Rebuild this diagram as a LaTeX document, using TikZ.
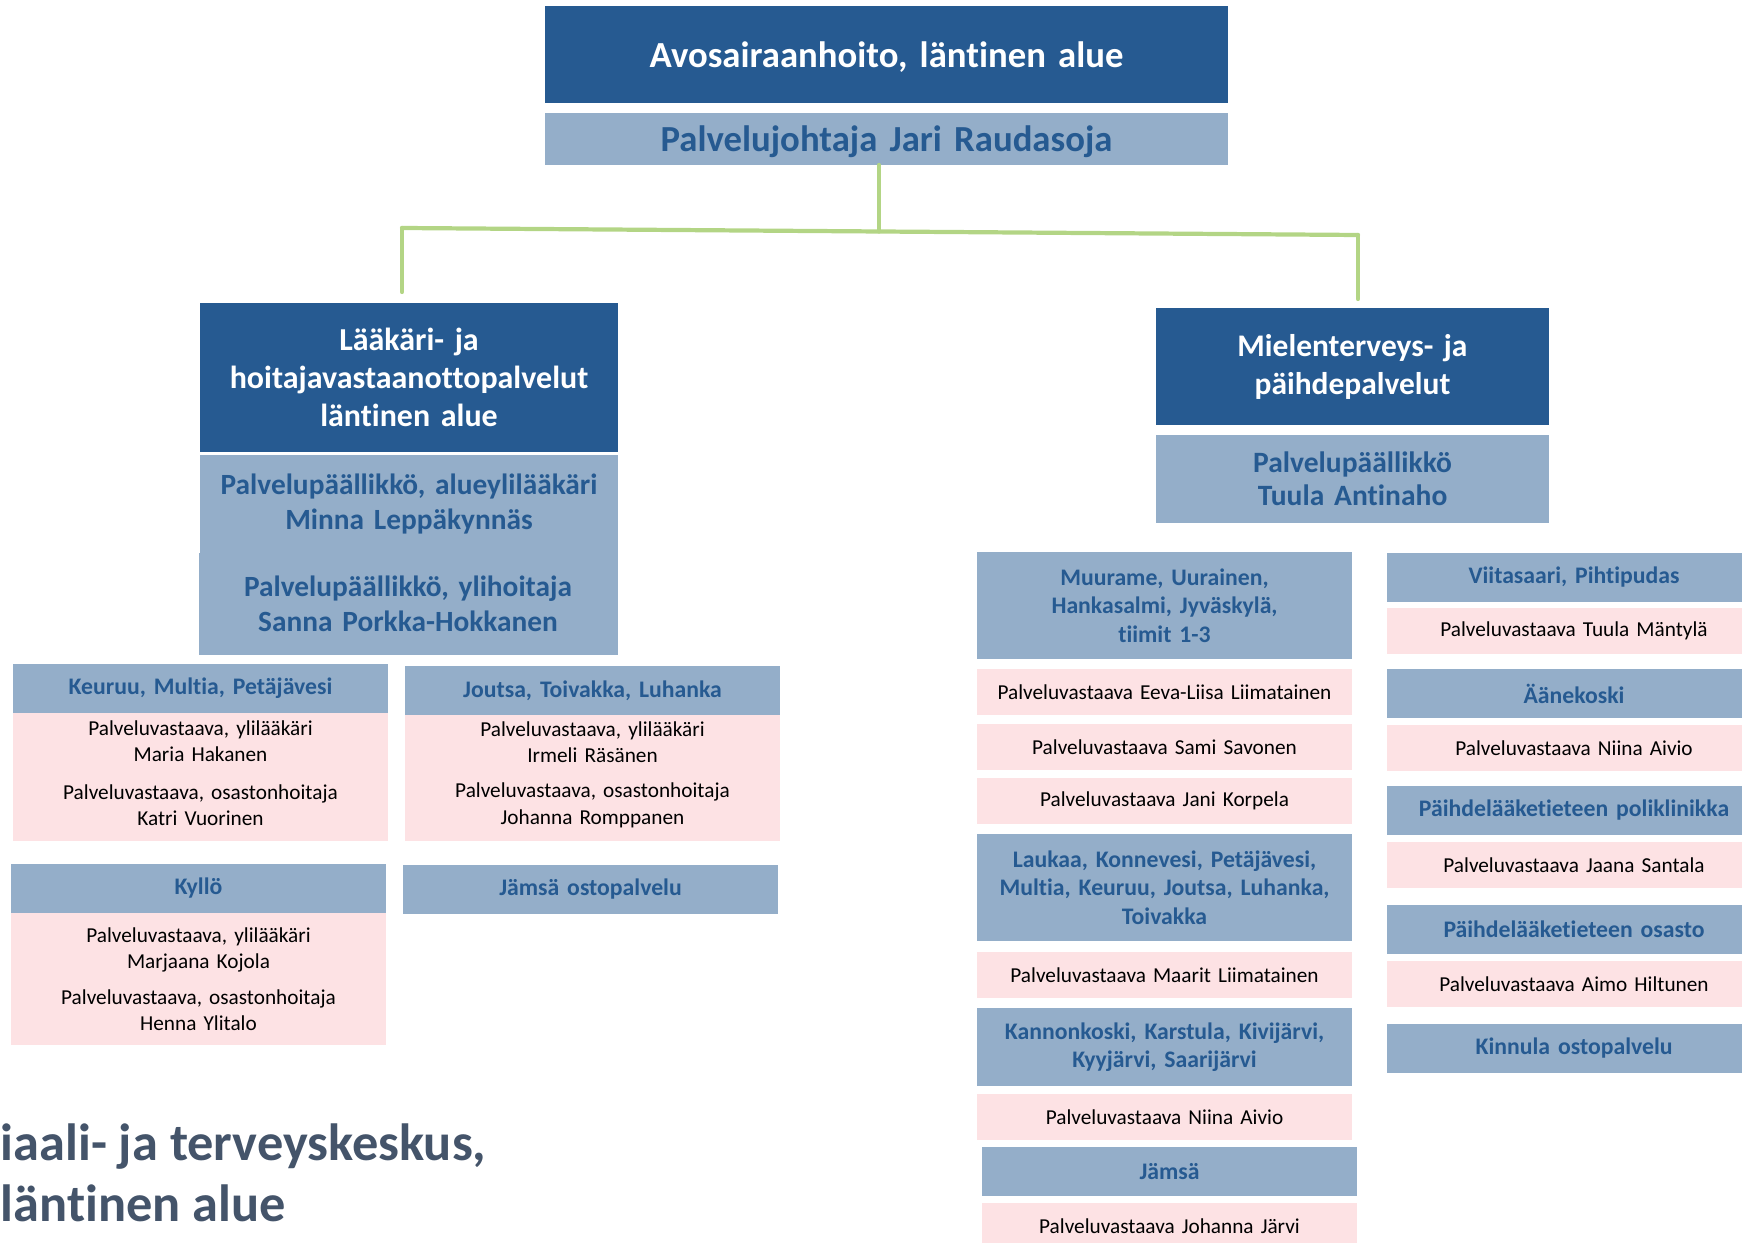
\documentclass[tikz,border=0pt]{standalone}
\usepackage{fontspec}
\setmainfont{Carlito}[Ligatures=NoCommon]
\usetikzlibrary{positioning}
\definecolor{deepblue}{RGB}{38,90,145}
\definecolor{paleblue}{RGB}{148,174,201}
\definecolor{palepink}{RGB}{253,226,228}
\definecolor{leafgreen}{RGB}{179,213,133}
\definecolor{slate}{RGB}{68,84,106}
\tikzset{
    unitbox/.style={rectangle, fill=deepblue, text=white, inner sep=0pt, outer sep=0pt, align=center, font=\bfseries},
    chiefbox/.style={rectangle, fill=paleblue, text=deepblue, inner sep=0pt, outer sep=0pt, align=center, font=\bfseries},
    areahead/.style={rectangle, fill=paleblue, text=deepblue, inner sep=0pt, outer sep=0pt, align=center, text width=3.75cm, minimum height=0.49cm, font=\fontsize{6.75}{8.1}\selectfont\bfseries},
    person/.style={rectangle, fill=palepink, text=black, inner sep=0pt, outer sep=0pt, align=center, text width=3.75cm, minimum height=0.46cm, font=\fontsize{6.05}{7.5}\selectfont},
    branch/.style={draw=leafgreen, line width=1.2pt, line cap=round, line join=round},
}
\begin{document}
\begin{tikzpicture}[node distance=0.1cm]
    \useasboundingbox (0,0) rectangle (17.42,-12.42);
    \clip (0,0) rectangle (17.42,-12.42);

    % Top of the organisation
    \node[unitbox, text width=6.83cm, minimum height=0.97cm, text depth=0pt, anchor=north west, font=\fontsize{10.45}{12.5}\selectfont\bfseries] (avo) at (5.45,-0.06) {Avosairaanhoito, läntinen alue};
    \node[chiefbox, text width=6.83cm, minimum height=0.52cm, text depth=0pt, below=0.1cm of avo, font=\fontsize{10.45}{12.5}\selectfont\bfseries] (raudasoja) {Palvelujohtaja Jari Raudasoja};

    % Left branch
    \node[unitbox, text width=4.18cm, minimum height=1.49cm, anchor=north west, font=\fontsize{9.1}{10.8}\selectfont\bfseries] (vastaanotto) at (2.00,-3.03) {Lääkäri- ja\\hoitajavastaanottopalvelut\\läntinen alue};
    \node[chiefbox, text width=4.18cm, minimum height=0.98cm, below=0.03cm of vastaanotto, font=\fontsize{8.35}{10}\selectfont\bfseries] (leppakynnas) {Palvelupäällikkö, alueylilääkäri\\Minna Leppäkynnäs};
    \node[chiefbox, text width=4.19cm, minimum height=1.02cm, below=0cm of leppakynnas, xshift=-0.01cm, font=\fontsize{8.35}{10}\selectfont\bfseries] (porkka) {Palvelupäällikkö, ylihoitaja\\Sanna Porkka-Hokkanen};

    \node[areahead, anchor=north west] (keuruu) at (0.13,-6.64) {Keuruu, Multia, Petäjävesi};
    \node[person, minimum height=0.57cm, below=0cm of keuruu] (hakanen) {Palveluvastaava, ylilääkäri\\Maria Hakanen};
    \node[person, minimum height=0.71cm, below=0cm of hakanen] (vuorinen) {Palveluvastaava, osastonhoitaja\\Katri Vuorinen};

    \node[areahead, anchor=north west] (joutsa) at (4.05,-6.66) {Joutsa, Toivakka, Luhanka};
    \node[person, minimum height=0.55cm, below=0cm of joutsa] (rasanen) {Palveluvastaava, ylilääkäri\\Irmeli Räsänen};
    \node[person, minimum height=0.71cm, below=0cm of rasanen] (romppanen) {Palveluvastaava, osastonhoitaja\\Johanna Romppanen};

    \node[areahead, anchor=north west] (kyllo) at (0.11,-8.64) {Kyllö};
    \node[person, minimum height=1.32cm, below=0cm of kyllo] (kojola) {Palveluvastaava, ylilääkäri\\Marjaana Kojola\\[2.6pt]Palveluvastaava, osastonhoitaja\\Henna Ylitalo};

    \node[areahead, anchor=north west] (jamsaosto) at (4.03,-8.65) {Jämsä ostopalvelu};

    % Right branch
    \node[unitbox, text width=3.93cm, minimum height=1.17cm, anchor=north west, font=\fontsize{8.95}{10.8}\selectfont\bfseries] (mielenterveys) at (11.56,-3.08) {Mielenterveys- ja\\päihdepalvelut};
    \node[chiefbox, text width=3.93cm, minimum height=0.88cm, below=0.1cm of mielenterveys, font=\fontsize{8.4}{9.5}\selectfont\bfseries] (antinaho) {Palvelupäällikkö\\Tuula Antinaho};

    \node[areahead, minimum height=1.07cm, anchor=north west] (muurame) at (9.77,-5.52) {Muurame, Uurainen,\\Hankasalmi, Jyväskylä,\\tiimit 1-3};
    \node[person, below=0.10cm of muurame] (liimatainen) {Palveluvastaava Eeva-Liisa Liimatainen};
    \node[person, below=0.09cm of liimatainen] (savonen) {Palveluvastaava Sami Savonen};
    \node[person, below=0.08cm of savonen] (korpela) {Palveluvastaava Jani Korpela};
    \node[areahead, minimum height=1.07cm, below=0.10cm of korpela] (laukaa) {Laukaa, Konnevesi, Petäjävesi,\\Multia, Keuruu, Joutsa, Luhanka,\\Toivakka};
    \node[person, below=0.11cm of laukaa] (maarit) {Palveluvastaava Maarit Liimatainen};
    \node[areahead, minimum height=0.78cm, below=0.10cm of maarit] (kannonkoski) {Kannonkoski, Karstula, Kivijärvi,\\Kyyjärvi, Saarijärvi};
    \node[person, below=0.08cm of kannonkoski] (aivio) {Palveluvastaava Niina Aivio};
    \node[areahead, below=0.07cm of aivio, xshift=0.05cm] (jamsa) {Jämsä};
    \node[person, below=0.07cm of jamsa] (jarvi) {Palveluvastaava Johanna Järvi};

    \node[areahead, text width=3.74cm, anchor=north west] (viitasaari) at (13.87,-5.53) {Viitasaari, Pihtipudas};
    \node[person, text width=3.74cm, below=0.06cm of viitasaari] (mantyla) {Palveluvastaava Tuula Mäntylä};
    \node[areahead, text width=3.74cm, below=0.15cm of mantyla] (aanekoski) {Äänekoski};
    \node[person, text width=3.74cm, below=0.07cm of aanekoski] (aivioB) {Palveluvastaava Niina Aivio};
    \node[areahead, text width=3.74cm, below=0.15cm of aivioB] (poliklinikka) {Päihdelääketieteen poliklinikka};
    \node[person, text width=3.74cm, below=0.07cm of poliklinikka] (santala) {Palveluvastaava Jaana Santala};
    \node[areahead, text width=3.74cm, below=0.17cm of santala] (osasto) {Päihdelääketieteen osasto};
    \node[person, text width=3.74cm, below=0.07cm of osasto] (hiltunen) {Palveluvastaava Aimo Hiltunen};
    \node[areahead, text width=3.74cm, below=0.17cm of hiltunen] (kinnula) {Kinnula ostopalvelu};

    % Green connectors
    \coordinate (fork) at (8.79,-2.315);
    \coordinate (lturn) at (4.02,-2.28);
    \coordinate (rturn) at (13.58,-2.35);
    \draw[branch] (raudasoja.south -| fork) -- (fork);
    \draw[branch] (lturn) -- (rturn);
    \draw[branch, shorten >=0.11cm] (lturn) -- (vastaanotto.north -| lturn);
    \draw[branch, shorten >=0.09cm] (rturn) -- (mielenterveys.north -| rturn);

    % Title fragment
    \node[anchor=north west, inner sep=0pt, align=left, text=slate, font=\fontsize{14.9}{17.4}\selectfont\bfseries] (keskus) at (0,-11.23) {iaali- ja terveyskeskus,\\läntinen alue};
\end{tikzpicture}
\end{document}
